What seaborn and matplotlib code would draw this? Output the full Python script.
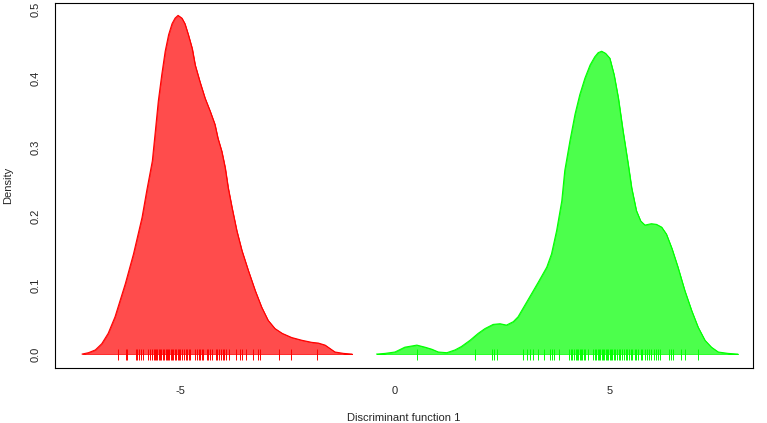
import numpy as np
import pandas as pd
import matplotlib
matplotlib.use("Agg")
import matplotlib.pyplot as plt
import seaborn as sns
from matplotlib.colors import to_rgba

# Density curve of group 1 (red)
red_x = [-7.30, -7.15, -6.99, -6.84, -6.69, -6.53, -6.29, -6.10, -5.90, -5.79,
         -5.66, -5.59, -5.52, -5.44, -5.36, -5.28, -5.20, -5.13, -5.06, -4.97,
         -4.90, -4.82, -4.73, -4.66, -4.55, -4.43, -4.31, -4.20, -4.13, -4.04,
         -3.96, -3.89, -3.80, -3.69, -3.57, -3.42, -3.26, -3.11, -2.96, -2.80,
         -2.63, -2.41, -2.17, -1.94, -1.79, -1.63, -1.40, -1.20, -1.00]
red_y = [0.000, 0.002, 0.006, 0.015, 0.030, 0.054, 0.102, 0.145, 0.198, 0.237,
         0.280, 0.323, 0.367, 0.405, 0.439, 0.463, 0.479, 0.487, 0.491, 0.487,
         0.479, 0.463, 0.443, 0.419, 0.395, 0.371, 0.352, 0.333, 0.313, 0.294,
         0.270, 0.241, 0.212, 0.179, 0.150, 0.121, 0.092, 0.068, 0.049, 0.037,
         0.030, 0.024, 0.020, 0.017, 0.016, 0.013, 0.003, 0.001, 0.000]

# Density curve of group 2 (green)
green_x = [-0.43, -0.23, 0.00, 0.23, 0.51, 0.70, 0.86, 1.01, 1.21, 1.40,
           1.55, 1.75, 1.94, 2.10, 2.29, 2.45, 2.60, 2.76, 2.87, 3.03,
           3.19, 3.34, 3.54, 3.65, 3.77, 3.89, 3.96, 4.08, 4.20, 4.31,
           4.43, 4.55, 4.66, 4.74, 4.82, 4.91, 5.01, 5.11, 5.21, 5.32,
           5.44, 5.52, 5.63, 5.73, 5.83, 5.98, 6.10, 6.22, 6.33, 6.46,
           6.60, 6.76, 6.92, 7.07, 7.23, 7.38, 7.54, 7.77, 8.00]
green_y = [0.000, 0.001, 0.003, 0.010, 0.013, 0.010, 0.007, 0.003, 0.002, 0.006,
           0.011, 0.020, 0.030, 0.037, 0.043, 0.044, 0.042, 0.047, 0.054, 0.071,
           0.088, 0.104, 0.126, 0.145, 0.179, 0.222, 0.266, 0.309, 0.348, 0.376,
           0.400, 0.419, 0.431, 0.437, 0.439, 0.436, 0.429, 0.405, 0.371, 0.323,
           0.275, 0.241, 0.208, 0.193, 0.187, 0.189, 0.188, 0.184, 0.174, 0.153,
           0.126, 0.092, 0.063, 0.039, 0.020, 0.010, 0.003, 0.001, 0.000]

# Individual scores (rug)
red_rug = [-6.47, -6.28, -6.24, -6.05, -6.01, -5.98, -5.92, -5.88, -5.75, -5.71,
           -5.67, -5.63, -5.60, -5.57, -5.54, -5.51, -5.48, -5.45, -5.42, -5.39,
           -5.35, -5.32, -5.29, -5.26, -5.23, -5.20, -5.17, -5.14, -5.11, -5.07,
           -5.04, -5.01, -4.97, -4.92, -4.87, -4.84, -4.81, -4.78, -4.66, -4.62,
           -4.58, -4.55, -4.51, -4.47, -4.39, -4.35, -4.31, -4.27, -4.17, -4.14,
           -4.10, -4.06, -4.02, -3.99, -3.95, -3.86, -3.71, -3.61, -3.56, -3.48,
           -3.30, -3.19, -3.14, -2.71, -2.42, -1.83]
green_rug = [0.52, 1.86, 2.27, 2.32, 2.37, 2.98, 3.07, 3.15, 3.22, 3.34,
             3.48, 3.62, 3.66, 3.71, 3.83, 4.06, 4.10, 4.14, 4.18, 4.22,
             4.25, 4.28, 4.31, 4.34, 4.37, 4.41, 4.44, 4.51, 4.61, 4.66,
             4.70, 4.73, 4.76, 4.79, 4.82, 4.85, 4.88, 4.92, 4.95, 4.98,
             5.01, 5.04, 5.07, 5.10, 5.14, 5.18, 5.22, 5.26, 5.30, 5.34,
             5.38, 5.42, 5.46, 5.50, 5.54, 5.59, 5.63, 5.68, 5.73, 5.77,
             5.84, 5.88, 5.93, 5.98, 6.04, 6.10, 6.14, 6.18, 6.39, 6.44,
             6.49, 6.67, 6.76, 7.07]

x_ticks = [-5, 0, 5]
y_ticks = [0.0, 0.1, 0.2, 0.3, 0.4, 0.5]

sns.set_style("white")
plt.rcParams['font.family'] = ['Liberation Sans', 'DejaVu Sans']

fig = plt.figure(figsize=(7.67, 4.23), dpi=100)
ax = fig.add_axes([0.0717, 0.130, 0.91, 0.863])

groups = [(red_x, red_y, red_rug, "#ff0000"), (green_x, green_y, green_rug, "#00ff00")]
for xs, ys, rug, col in groups:
    ax.fill_between(xs, ys, 0, facecolor=to_rgba(col, 0.7), edgecolor=col, linewidth=0.5)
    sns.lineplot(x=xs, y=ys, color=col, linewidth=0.8, sort=False, ax=ax)
    ax.vlines(rug, -0.009, 0.007, colors=col, linewidth=0.7)

ax.set_xlim(-7.93, 8.35)
ax.set_ylim(-0.0202, 0.509)
ax.set_xticks(x_ticks)
ax.set_xticklabels([str(t) for t in x_ticks], fontsize=8)
ax.set_yticks(y_ticks)
ax.set_yticklabels([f"{t:.1f}" for t in y_ticks], fontsize=8, rotation=90, va='center')
ax.tick_params(axis='both', direction='out', length=7, width=0.8, color='black', pad=3)
ax.tick_params(axis='x', pad=6)
for sp in ax.spines.values():
    sp.set_color('black')
    sp.set_linewidth(0.8)

ax.set_xlabel("Discriminant function 1", fontsize=8, labelpad=12)
ax.set_ylabel("Density", fontsize=8, labelpad=13)

fig.savefig("out.png", dpi=100)
